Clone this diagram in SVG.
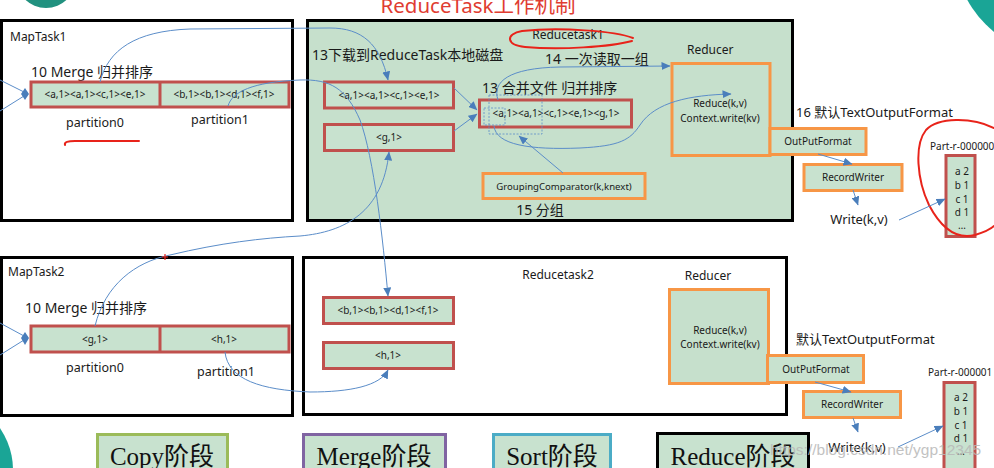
<svg xmlns="http://www.w3.org/2000/svg" width="994" height="468" viewBox="0 0 994 468">
<defs>
<marker id="arr" markerWidth="10" markerHeight="8" refX="8.5" refY="4" orient="auto" markerUnits="userSpaceOnUse">
<path d="M0,0 L9,4 L0,8 z" fill="#4A7EBB"/>
</marker>
<style>
.t{font-family:'Noto Sans','Noto Sans CJK SC',sans-serif;fill:#1a1a1a}
.ph{font-family:'Liberation Serif','Noto Sans CJK SC',serif;font-size:25px;fill:#111;text-anchor:middle}
.box{stroke:#000;stroke-width:3;fill:#fff}
.gbox{stroke:#000;stroke-width:3;fill:#C6E0CC}
.bar{stroke:#C0504D;stroke-width:3;fill:#C8E2CF}
.ob{stroke:#F79646;stroke-width:3;fill:#C8E2CF}
.s10{font-size:10px}
.s12{font-size:12px}
.s13{font-size:13px}
.s14{font-size:14px}
.m{text-anchor:middle}
.c{fill:none;stroke:#5B8DC9;stroke-width:1}
.ca{fill:none;stroke:#5B8DC9;stroke-width:1;marker-end:url(#arr)}
.red{fill:none;stroke:#E8231A;stroke-width:2;stroke-linecap:round}
.dot{fill:none;stroke:#5B8DC9;stroke-width:0.8;stroke-dasharray:2 1.5}
</style>
</defs>
<rect width="994" height="468" fill="#fff"/>
<g id="decor">
<circle cx="46" cy="-22" r="30" fill="#21917F"/>
<circle cx="1062" cy="-52" r="108" fill="#1AA596"/>
<circle cx="-61" cy="470" r="74" fill="#1AA596"/>
</g>
<text x="478" y="13" class="t m" style="font-size:20.5px;fill:#E03C31">ReduceTask工作机制</text>

<g id="maptask1">
<rect x="1.5" y="20.5" width="291" height="200" class="box"/>
<text x="10" y="41" class="t s12">MapTask1</text>
<text x="31" y="77" class="t s14">10 Merge 归并排序</text>
<rect x="31" y="82" width="258" height="25" class="bar"/>
<line x1="160" y1="82" x2="160" y2="107" stroke="#C0504D" stroke-width="3"/>
<text x="95" y="98" class="t s10 m">&lt;a,1&gt;&lt;a,1&gt;&lt;c,1&gt;&lt;e,1&gt;</text>
<text x="224" y="98" class="t s10 m">&lt;b,1&gt;&lt;b,1&gt;&lt;d,1&gt;&lt;f,1&gt;</text>
<text x="95" y="127" class="t m" style="font-size:12.5px">partition0</text>
<text x="220" y="124" class="t m" style="font-size:12.5px">partition1</text>
<path d="M65 145 C64 142,68 141,75 141 L139 141" class="red"/>
</g>

<g id="reducetask1">
<rect x="307.5" y="20.5" width="485" height="200" class="gbox"/>
<text x="568" y="39" class="t s12 m">Reducetask1</text>
<path d="M633 38 C615 31,560 27,522 31 C505 34,506 45,525 47 C560 50,610 47,632 41" class="red"/>
<text x="312" y="60" class="t s14">13下载到ReduceTask本地磁盘</text>
<text x="545" y="64" class="t s14">14 一次读取一组</text>
<text x="482" y="93" class="t s14">13 合并文件 归并排序</text>
<text x="540" y="215" class="t s14 m">15 分组</text>
</g>
<g id="r1-box-a">
<rect x="324.5" y="82" width="129" height="26" class="bar"/>
<text x="389" y="98.5" class="t s10 m">&lt;a,1&gt;&lt;a,1&gt;&lt;c,1&gt;&lt;e,1&gt;</text>
</g>
<g id="r1-box-g">
<rect x="324.5" y="124.5" width="129" height="26" class="bar"/>
<text x="389" y="141" class="t s10 m">&lt;g,1&gt;</text>
</g>
<g id="r1-merged">
<rect x="479.5" y="100" width="152" height="27" class="bar"/>
<text x="556" y="117" class="t s10 m">&lt;a,1&gt;&lt;a,1&gt;&lt;c,1&gt;&lt;e,1&gt;&lt;g,1&gt;</text>
<rect x="489" y="95" width="53" height="39" class="dot"/>
<rect x="484" y="108" width="21" height="17" class="dot"/>
</g>
<g id="r1-grouping">
<rect x="483" y="173.5" width="162" height="25" class="ob"/>
<text x="564" y="190" class="t m" style="font-size:9.6px">GroupingComparator(k,knext)</text>
</g>
<g id="r1-reducer">
<text x="687" y="54" class="t s12">Reducer</text>
<rect x="672" y="63.5" width="98" height="92" class="ob" style="fill:#C6E0CC"/>
<text x="720" y="106.5" class="t s10 m">Reduce(k,v)</text>
<text x="720" y="121.5" class="t s10 m">Context.write(kv)</text>
</g>
<g id="r1-outputformat">
<text x="796" y="116.5" class="t s13">16 默认TextOutputFormat</text>
<rect x="770" y="128.5" width="96" height="26" class="ob"/>
<text x="818" y="145" class="t s10 m">OutPutFormat</text>
</g>
<g id="r1-recordwriter">
<rect x="804" y="164.5" width="98" height="26" class="ob"/>
<text x="853" y="181" class="t s10 m">RecordWriter</text>
</g>
<g id="r1-write">
<text x="859" y="224" class="t s13 m">Write(k,v)</text>
</g>
<g id="part0">
<text x="930" y="150" class="t s10">Part-r-000000</text>
<rect x="946" y="155.5" width="29" height="81" class="bar"/>
<text x="962" y="175" class="t s10 m">a 2</text>
<text x="962" y="189" class="t s10 m">b 1</text>
<text x="962" y="203" class="t s10 m">c 1</text>
<text x="962" y="216" class="t s10 m">d 1</text>
<text x="962" y="229" class="t s10 m">…</text>
<path d="M994 128 C972 117,938 117,926 130 C914 145,917 180,929 205 C940 226,955 240,975 235 C985 232,991 229,994 226" class="red"/>
</g>

<g id="maptask2">
<rect x="1.5" y="257.5" width="291" height="158" class="box"/>
<text x="8" y="276" class="t s12">MapTask2</text>
<text x="25" y="313" class="t s14">10 Merge 归并排序</text>
<rect x="31" y="326" width="258" height="26" class="bar"/>
<line x1="160" y1="326" x2="160" y2="352" stroke="#C0504D" stroke-width="3"/>
<text x="95" y="342.5" class="t s10 m">&lt;g,1&gt;</text>
<text x="224" y="342.5" class="t s10 m">&lt;h,1&gt;</text>
<text x="95" y="372" class="t m" style="font-size:12.5px">partition0</text>
<text x="226" y="376" class="t m" style="font-size:12.5px">partition1</text>
</g>

<g id="reducetask2">
<rect x="303.5" y="257.5" width="483" height="157" class="box"/>
<text x="558" y="279" class="t s12 m">Reducetask2</text>
</g>
<g id="r2-box-b">
<rect x="323.5" y="297.5" width="130" height="26" class="bar"/>
<text x="388" y="314" class="t s10 m">&lt;b,1&gt;&lt;b,1&gt;&lt;d,1&gt;&lt;f,1&gt;</text>
</g>
<g id="r2-box-h">
<rect x="323.5" y="342.5" width="130" height="26" class="bar"/>
<text x="388" y="359" class="t s10 m">&lt;h,1&gt;</text>
</g>
<g id="r2-reducer">
<text x="708" y="280" class="t s12 m">Reducer</text>
<rect x="669.5" y="289.5" width="99" height="94" class="ob" style="fill:#C6E0CC"/>
<text x="720" y="333.5" class="t s10 m">Reduce(k,v)</text>
<text x="720" y="347.5" class="t s10 m">Context.write(kv)</text>
</g>
<g id="r2-outputformat">
<text x="796" y="344" class="t s13">默认TextOutputFormat</text>
<rect x="767.5" y="355.5" width="96" height="27" class="ob"/>
<text x="816" y="372.5" class="t s10 m">OutPutFormat</text>
</g>
<g id="r2-recordwriter">
<rect x="803.5" y="391.5" width="97" height="26" class="ob"/>
<text x="852" y="408" class="t s10 m">RecordWriter</text>
</g>
<g id="r2-write">
<text x="857" y="452" class="t s13 m">Write(k,v)</text>
</g>
<g id="part1">
<text x="928" y="376" class="t s10">Part-r-000001</text>
<rect x="944" y="382.5" width="31" height="92" class="bar"/>
<text x="961" y="401" class="t s10 m">a 2</text>
<text x="961" y="415" class="t s10 m">b 1</text>
<text x="961" y="429" class="t s10 m">c 1</text>
<text x="961" y="442" class="t s10 m">d 1</text>
<text x="961" y="455" class="t s10 m">…</text>
</g>

<g id="phases">
<g id="phase-copy"><rect x="97.5" y="434.5" width="130" height="40" stroke="#9BBB59" stroke-width="3" fill="#C8E2CF"/><text x="162" y="465" class="ph">Copy阶段</text></g>
<g id="phase-merge"><rect x="303.5" y="434.5" width="142" height="40" stroke="#8064A2" stroke-width="3" fill="#C8E2CF"/><text x="374" y="465" class="ph">Merge阶段</text></g>
<g id="phase-sort"><rect x="493.5" y="434.5" width="117" height="40" stroke="#4BACC6" stroke-width="3" fill="#C8E2CF"/><text x="552" y="465" class="ph">Sort阶段</text></g>
<g id="phase-reduce"><rect x="657.5" y="433.5" width="151" height="40" stroke="#000" stroke-width="3" fill="#C8E2CF"/><text x="733" y="465" class="ph">Reduce阶段</text></g>
</g>

<g id="connectors">
<path d="M0 80 L24 92 M0 111 L24 96" class="c"/>
<path d="M25 88 L29 94 L25 100 L21 94 z" fill="#4A7EBB"/>
<path d="M0 323 L24 336 M0 355 L24 340" class="c"/>
<path d="M25 332 L29 338 L25 345 L21 338 z" fill="#4A7EBB"/>
<path d="M100 82 C108 50,135 31,190 29 L330 28 C362 28,380 44,388 80" class="ca"/>
<path d="M228 106 C232 92,252 82,300 80 C330 79,346 88,360 120 C374 158,383 240,388 296" class="ca"/>
<path d="M95 326 C105 285,135 262,170 255 C220 243,262 238,300 236 C345 232,383 212,389 152" class="ca"/>
<path d="M225 352 C228 380,262 390,310 392 C350 392,380 386,388 370" class="ca"/>
<path d="M498 100 C492 82,508 68,560 67 L670 66" class="ca"/>
<path d="M494 126 C496 145,530 150,580 148 C620 146,630 140,640 125 C655 102,690 95,731 94" class="ca"/>
<path d="M563 173 L519 136" class="ca"/>
<path d="M454 88 L477 110" class="ca"/>
<path d="M454 131 L477 114" class="ca"/>
<path d="M818 154 L852 164" class="ca"/>
<path d="M853 190 L858 205" class="ca"/>
<path d="M899 220 L945 199" class="ca"/>
<path d="M815 382 L851 392" class="ca"/>
<path d="M853 418 L858 432" class="ca"/>
<path d="M898 447 L943 426" class="ca"/>
<path d="M162 257 L168 257 M165 254 L165 260" stroke="#E8231A" stroke-width="1.2"/>
</g>
<text x="770" y="455" style="font-family:'Liberation Sans',sans-serif;font-size:15.5px;fill:#B8B8B8;opacity:0.85">https://blog.csdn.net/ygp12345</text>
</svg>
